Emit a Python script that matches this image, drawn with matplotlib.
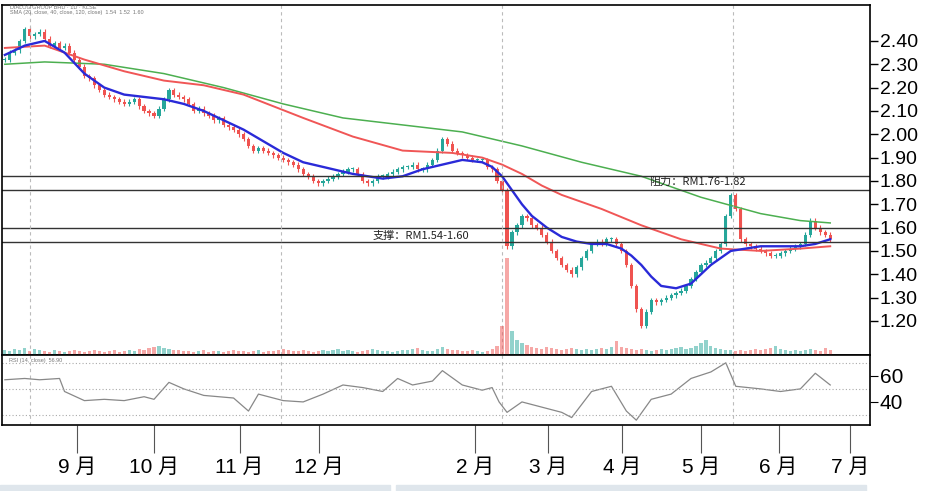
import matplotlib
matplotlib.use("Agg")
import matplotlib.pyplot as plt
from matplotlib.patches import Rectangle

plt.rcParams["font.family"] = ["Liberation Sans", "Noto Sans CJK SC"]

# candle positions (chart x units) and closing prices
cx = list(range(0, 831, 5))
close = [2.32,2.35,2.36,2.40,2.45,2.42,2.43,2.44,2.41,2.38,2.39,2.37,2.38,2.35,2.32,2.29,2.25,2.24,2.21,2.19,2.17,2.16,2.15,2.14,2.13,2.14,2.15,2.12,2.10,2.09,2.08,2.11,2.15,2.19,2.17,2.16,2.15,2.13,2.10,2.11,2.09,2.08,2.06,2.07,2.04,2.03,2.02,2.00,1.98,1.95,1.93,1.94,1.93,1.92,1.91,1.90,1.89,1.88,1.87,1.85,1.83,1.82,1.80,1.79,1.80,1.81,1.82,1.83,1.84,1.85,1.85,1.83,1.80,1.79,1.80,1.82,1.82,1.83,1.84,1.85,1.86,1.86,1.87,1.85,1.85,1.87,1.89,1.93,1.98,1.96,1.93,1.92,1.91,1.90,1.89,1.89,1.89,1.86,1.85,1.80,1.76,1.52,1.58,1.61,1.65,1.64,1.61,1.60,1.57,1.54,1.50,1.47,1.44,1.42,1.40,1.43,1.47,1.50,1.53,1.54,1.53,1.55,1.55,1.53,1.50,1.44,1.35,1.25,1.18,1.24,1.29,1.28,1.29,1.30,1.31,1.32,1.33,1.35,1.38,1.41,1.44,1.45,1.47,1.50,1.53,1.65,1.74,1.68,1.55,1.53,1.52,1.51,1.50,1.49,1.48,1.48,1.49,1.50,1.51,1.52,1.53,1.57,1.63,1.60,1.58,1.57,1.55]
volume = [5,4,6,5,7,4,6,5,4,3,5,4,3,4,5,4,3,4,5,4,3,4,5,3,4,5,4,6,5,7,8,9,7,6,5,5,4,4,3,4,5,3,4,4,3,4,5,4,4,3,4,5,3,4,4,5,6,5,4,4,5,4,3,4,5,4,5,6,4,5,4,3,4,5,6,5,4,4,3,4,5,5,6,7,5,4,4,6,8,6,5,5,4,4,5,4,3,4,6,9,30,100,25,15,12,10,8,7,6,8,7,6,5,6,7,6,5,6,5,6,7,6,8,14,8,7,6,5,6,5,4,5,6,5,6,7,8,6,7,9,12,15,9,7,6,5,5,4,5,4,5,6,5,6,7,9,6,5,4,5,4,5,6,5,4,7,5]

ma_x = [0,20,40,60,80,100,120,140,160,180,200,220,240,260,280,300,330,350,380,400,420,440,460,480,490,500,510,520,530,545,560,575,590,605,620,630,640,650,660,675,690,700,710,720,730,745,760,780,800,815,830]
ma_blue = [2.34,2.38,2.40,2.35,2.26,2.20,2.17,2.16,2.15,2.13,2.10,2.06,2.02,1.97,1.92,1.88,1.85,1.83,1.81,1.82,1.85,1.87,1.89,1.88,1.86,1.82,1.76,1.70,1.65,1.60,1.56,1.54,1.53,1.53,1.51,1.48,1.44,1.39,1.35,1.34,1.36,1.40,1.44,1.47,1.50,1.51,1.52,1.52,1.52,1.53,1.55]
mr_x = [0,40,80,120,160,200,240,270,300,350,400,450,480,500,520,540,560,600,640,680,720,760,800,830]
ma_red = [2.37,2.38,2.32,2.27,2.23,2.21,2.17,2.12,2.07,1.99,1.93,1.92,1.90,1.87,1.83,1.78,1.74,1.68,1.61,1.55,1.51,1.50,1.51,1.52]
mg_x = [0,40,100,160,220,280,340,400,460,520,580,640,700,760,800,830]
ma_green = [2.30,2.31,2.30,2.26,2.20,2.13,2.07,2.04,2.01,1.95,1.88,1.82,1.73,1.66,1.63,1.62]

rsi_x = [0,20,35,55,60,80,100,120,140,150,165,180,200,230,245,255,280,300,320,340,360,380,395,410,430,440,460,480,490,497,505,520,540,560,570,590,610,625,635,650,670,690,710,725,735,760,780,800,815,825,830]
rsi = [57,58,57,58,48,41,42,41,44,42,55,50,45,43,33,46,41,40,46,53,51,48,58,53,56,64,53,49,51,40,32,40,36,32,28,48,52,33,26,42,46,58,63,70,52,50,48,50,62,56,53]

levels = [1.82, 1.76, 1.60, 1.54]
level_text = [("阻力：RM1.76-1.82", 648, 1.795), ("支撑：RM1.54-1.60", 370, 1.565)]
month_pos = [73,150,236,316,473,546,621,700,778,850]
month_lab = ["9 月","10 月","11 月","12 月","2 月","3 月","4 月","5 月","6 月","7 月"]
price_ticks = [2.40,2.30,2.20,2.10,2.00,1.90,1.80,1.70,1.60,1.50,1.40,1.30,1.20]

W, H = 934, 491
fig = plt.figure(figsize=(9.34, 4.91), dpi=100)
R = 870 / W
ax = fig.add_axes([0.002, 1 - 355 / H, R - 0.002, 350 / H])
axv = fig.add_axes([0.002, 1 - 355 / H, R - 0.002, 350 / H], sharex=ax)
axr = fig.add_axes([0.002, 1 - 425 / H, R - 0.002, 70 / H], sharex=ax)

up_c, dn_c = "#26a69a", "#ef5350"
for i, (x, c) in enumerate(zip(cx, close)):
    o = close[i - 1] if i > 0 else c
    col = up_c if c >= o else dn_c
    lo, hi = min(o, c), max(o, c)
    ax.add_patch(Rectangle((x - 1.6, lo), 3.2, max(hi - lo, 0.004), color=col, lw=0))
    ax.vlines(x, lo - 0.01, hi + 0.01, color=col, lw=0.8)
    axv.bar(x, volume[i], width=3.2, color=col, alpha=0.5, lw=0)

ax.plot(mg_x, ma_green, color="#4caf50", lw=1.1)
ax.plot(mr_x, ma_red, color="#f05656", lw=1.4)
ax.plot(ma_x, ma_blue, color="#2a2ad8", lw=1.7)
for lv in levels:
    ax.axhline(lv, color="#333333", lw=1.0)
for t, x, y in level_text:
    ax.text(x, y, t, fontsize=8, color="#222222", va="center", family="Noto Sans CJK SC")
for vx in [25, 278, 500, 732]:
    ax.axvline(vx, color="#bbbbbb", lw=0.8, ls=(0, (3, 3)))
    axr.axvline(vx, color="#bbbbbb", lw=0.8, ls=(0, (3, 3)))
ax.text(5, 2.535, "DIALOG GROUP BHD · 1D · KLSE", fontsize=4, color="#777777")
ax.text(5, 2.515, "SMA (20, close, 40, close, 120, close)  1.54  1.52  1.60", fontsize=4, color="#777777")

ax.set_xlim(-3, 870)
ax.set_ylim(1.054, 2.554)
ax.yaxis.tick_right()
ax.set_yticks(price_ticks)
ax.set_yticklabels([f"{v:.2f}" for v in price_ticks], fontsize=14)
ax.tick_params(axis="y", direction="out", length=6, width=1, pad=1)
ax.tick_params(axis="x", bottom=False, labelbottom=False)
for s in ax.spines.values():
    s.set_linewidth(1.2)

axv.set_ylim(0, 360)
axv.axis("off")
axv.patch.set_alpha(0)

axr.plot(rsi_x, rsi, color="#888888", lw=0.9)
for lv in [70, 50, 30]:
    axr.axhline(lv, color="#aaaaaa", lw=0.8, ls=(0, (1, 2)))
axr.set_ylim(22.3, 76)
axr.yaxis.tick_right()
axr.set_yticks([60, 40])
axr.set_yticklabels(["60", "40"], fontsize=15)
axr.tick_params(axis="y", direction="out", length=6, pad=1)
axr.text(4, 71, "RSI (14, close)  56.90", fontsize=4, color="#777777")
axr.set_xticks(month_pos)
axr.set_xticklabels(month_lab, fontsize=15)
axr.tick_params(axis="x", direction="out", length=20, width=0.8, color="#555555", pad=4)
for s in axr.spines.values():
    s.set_linewidth(1.2)

fig.patches.append(Rectangle((0, 0), 390 / W, 6 / H, transform=fig.transFigure, color="#dfe6ec"))
fig.patches.append(Rectangle((396 / W, 0), 470 / W, 6 / H, transform=fig.transFigure, color="#dfe6ec"))

fig.savefig("out.png", dpi=100)
